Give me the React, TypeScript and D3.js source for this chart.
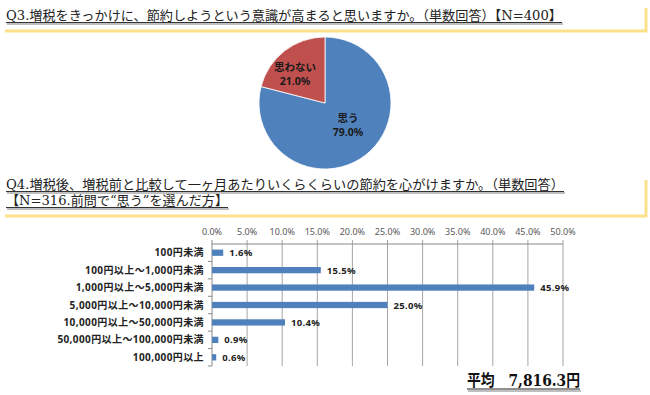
import React from 'react';
import * as d3 from 'd3';

const q3Title = 'Q3.増税をきっかけに、節約しようという意識が高まると思いますか。（単数回答）【N=400】';
const q4Title1 = 'Q4.増税後、増税前と比較して一ヶ月あたりいくらくらいの節約を心がけますか。（単数回答）';
const q4Title2 = '【N=316.前問で“思う”を選んだ方】';

const pieLabels = ['思う', '思わない'];
const pieValues = [79.0, 21.0];
const pieColors = ['#4f81bd', '#c0504d'];

const barCategories = [
  '100円未満',
  '100円以上～1,000円未満',
  '1,000円以上～5,000円未満',
  '5,000円以上～10,000円未満',
  '10,000円以上～50,000円未満',
  '50,000円以上～100,000円未満',
  '100,000円以上',
];
const barValues = [1.6, 15.5, 45.9, 25.0, 10.4, 0.9, 0.6];
const xTicks = [0, 5, 10, 15, 20, 25, 30, 35, 40, 45, 50];

const averageText = '平均　7,816.3円';

const serif = '"DejaVu Serif", "Liberation Serif", "Noto Sans CJK JP", serif';
const sans = '"Noto Sans", "Noto Sans CJK JP", sans-serif';
const yellow = '#fbe18a';

function Heading({ x, y, text, len }: { x: number; y: number; text: string; len: number }) {
  return (
    <g>
      <text x={x} y={y} fontFamily={serif} fontSize={13} fill="#222" textLength={len} lengthAdjust="spacingAndGlyphs">
        {text}
      </text>
      <line x1={x} x2={x + len} y1={y + 2.5} y2={y + 2.5} stroke="#333" strokeWidth={1} />
      <line x1={x + 1} x2={x + len + 1} y1={y + 4} y2={y + 4} stroke="#aaa" strokeWidth={1.5} />
    </g>
  );
}

export default function App() {
  // pie
  const cx = 325, cy = 103, r = 66;
  const pie = d3.pie<number>().sort(null).value(d => d);
  const arcs = pie(pieValues);
  const arc = d3.arc<d3.PieArcDatum<number>>().innerRadius(0).outerRadius(r);
  // label spots
  const labelPos = [[cx + 23, cy + 21], [cx - 30, cy - 30]];

  // bar
  const x = d3.scaleLinear().domain([0, 50]).range([212, 563]);
  const y = d3.scaleBand<string>().domain(barCategories).range([244, 366]).paddingInner(0.64).paddingOuter(0.32);
  const bandStep = y.step();

  return (
    <svg width={650} height={395} style={{ position: 'absolute', left: 0, top: 0, background: '#fff' }}>
      {/* Q3 header */}
      <Heading x={6} y={20} text={q3Title} len={556} />
      <line x1={5} x2={647} y1={31} y2={31} stroke={yellow} strokeWidth={3} />
      <line x1={646} x2={646} y1={8} y2={32} stroke={yellow} strokeWidth={3} />

      {/* pie */}
      <g>
        {arcs.map((a, i) => (
          <path key={i} d={arc(a) || ''} transform={`translate(${cx},${cy})`} fill={pieColors[i]} stroke="#fff" strokeWidth={0.8} />
        ))}
        {arcs.map((a, i) => {
          const [px, py] = labelPos[i];
          return (
            <g key={i} fontFamily={sans} fontSize={10.5} fontWeight="bold" fill="#1a1a1a" textAnchor="middle">
              <text x={px} y={py - 2}>{pieLabels[i]}</text>
              <text x={px} y={py + 12}>{pieValues[i].toFixed(1)}%</text>
            </g>
          );
        })}
      </g>

      {/* Q4 header */}
      <Heading x={6} y={189} text={q4Title1} len={558} />
      <Heading x={6} y={205} text={q4Title2} len={222} />
      <line x1={5} x2={647} y1={216} y2={216} stroke={yellow} strokeWidth={3} />
      <line x1={646} x2={646} y1={180} y2={217} stroke={yellow} strokeWidth={3} />

      {/* bar chart */}
      <g>
        {xTicks.map(t => (
          <g key={t}>
            <line x1={x(t)} x2={x(t)} y1={240} y2={366} stroke={t === 0 ? '#888' : '#a6a6a6'} strokeWidth={1} />
            <text x={x(t)} y={235} textAnchor="middle" fontFamily={sans} fontSize={9} fill="#595959">
              {t.toFixed(1)}%
            </text>
          </g>
        ))}
        <line x1={x(0)} x2={x(50)} y1={244} y2={244} stroke="#888" strokeWidth={1} />
        {barCategories.map((c, i) => (
          <line key={'t' + i} x1={x(0) - 4} x2={x(0)} y1={244 + bandStep * (i + 1)} y2={244 + bandStep * (i + 1)} stroke="#888" />
        ))}
        {barCategories.map((c, i) => (
          <g key={c}>
            <rect x={x(0)} y={y(c)!} width={x(barValues[i]) - x(0)} height={y.bandwidth()} fill="#4f81bd" />
            <text x={204} y={y(c)! + y.bandwidth() / 2 + 3.5} textAnchor="end" fontFamily={sans} fontSize={10} fontWeight="bold" fill="#222" letterSpacing={0.4}>
              {c}
            </text>
            <text x={x(barValues[i]) + 6} y={y(c)! + y.bandwidth() / 2 + 3.5} fontFamily={sans} fontSize={9.5} fontWeight="bold" fill="#222" letterSpacing={0.3}>
              {barValues[i].toFixed(1)}%
            </text>
          </g>
        ))}
      </g>

      {/* average */}
      <g>
        <text x={467} y={386} fontFamily={serif} fontSize={16} fontWeight="bold" fill="#111" textLength={113} lengthAdjust="spacingAndGlyphs">
          {averageText}
        </text>
        <line x1={467} x2={580} y1={389} y2={389} stroke="#222" strokeWidth={1} />
        <line x1={468} x2={581} y1={391} y2={391} stroke="#aaa" strokeWidth={1.5} />
      </g>
    </svg>
  );
}
